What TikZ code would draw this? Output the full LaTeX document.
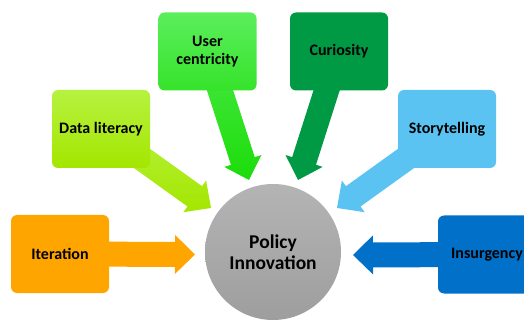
\documentclass[tikz,border=0pt]{standalone}
\usepackage{fontspec}
\setmainfont{Carlito}
\usetikzlibrary{calc}

% Block arrow from #1 to the tip #2, filled with style #3
\newcommand{\blockarrow}[3]{%
  \coordinate (ba-h) at ($(#2)!20pt!(#1)$);
  \path[#3]
    ($(#1)!12.5pt!90:(#2)$) -- ($(ba-h)!12.5pt!90:(#2)$) --
    ($(ba-h)!19.5pt!90:(#2)$) -- (#2) --
    ($(ba-h)!19.5pt!-90:(#2)$) -- ($(ba-h)!12.5pt!-90:(#2)$) --
    ($(#1)!12.5pt!-90:(#2)$) -- cycle;
}

\definecolor{cOrange}{RGB}{255,165,0}
\definecolor{cLimeT}{RGB}{182,242,64}
\definecolor{cLimeB}{RGB}{164,230,0}
\definecolor{cGreenT}{RGB}{92,238,92}
\definecolor{cGreenB}{RGB}{28,220,10}
\definecolor{cDark}{RGB}{0,153,68}
\definecolor{cSky}{RGB}{91,195,242}
\definecolor{cBlue}{RGB}{0,112,200}
\definecolor{cGreyT}{RGB}{180,180,180}
\definecolor{cGreyB}{RGB}{158,158,158}

\tikzset{
  box/.style={rectangle, rounded corners=6pt, minimum width=98pt,
    minimum height=78pt, inner sep=0pt, align=center,
    font=\bfseries\fontsize{16}{17.5}\selectfont, text=black},
  hub/.style={circle, minimum size=136pt, inner sep=0pt, align=center,
    font=\bfseries\fontsize{19.5}{21}\selectfont, text=black,
    top color=cGreyT, bottom color=cGreyB}
}

\begin{document}
\begin{tikzpicture}[x=1pt, y=-1pt]
  \useasboundingbox (0,0) rectangle (524,320);
  \clip (0,0) rectangle (524,320);

  % tips of the block arrows
  \coordinate (t-iter) at (195,254.5);
  \coordinate (t-data) at (211,208);
  \coordinate (t-user) at (249,180);
  \coordinate (t-cur)  at (298,180);
  \coordinate (t-story) at (337,208);
  \coordinate (t-ins)  at (353,255);

  % box centres
  \coordinate (c-iter) at (60,254);
  \coordinate (c-data) at (101,129);
  \coordinate (c-user) at (207.5,51.5);
  \coordinate (c-cur)  at (339,51.5);
  \coordinate (c-story) at (447,129);
  \coordinate (c-ins)  at (487,254.5);

  \blockarrow{c-iter}{t-iter}{fill=cOrange}
  \blockarrow{c-data}{t-data}{top color=cLimeT, bottom color=cLimeB}
  \blockarrow{c-user}{t-user}{top color=cGreenT!70!cGreenB, bottom color=cGreenB}
  \blockarrow{c-cur}{t-cur}{fill=cDark}
  \blockarrow{c-story}{t-story}{fill=cSky}
  \blockarrow{c-ins}{t-ins}{fill=cBlue}

  \node[box, fill=cOrange] (iter) at (c-iter) {Iteration};
  \node[box, top color=cLimeT, bottom color=cLimeB] (data) at (c-data) {Data literacy};
  \node[box, top color=cGreenT, bottom color=cGreenB!60!cGreenT] (user) at (c-user) {User\\centricity};
  \node[box, fill=cDark] (cur) at (c-cur) {Curiosity};
  \node[box, fill=cSky] (story) at (c-story) {Storytelling};
  \node[box, fill=cBlue] (ins) at (c-ins) {Insurgency};

  \node[hub] (hub) at (273,252) {Policy\\Innovation};
\end{tikzpicture}
\end{document}
